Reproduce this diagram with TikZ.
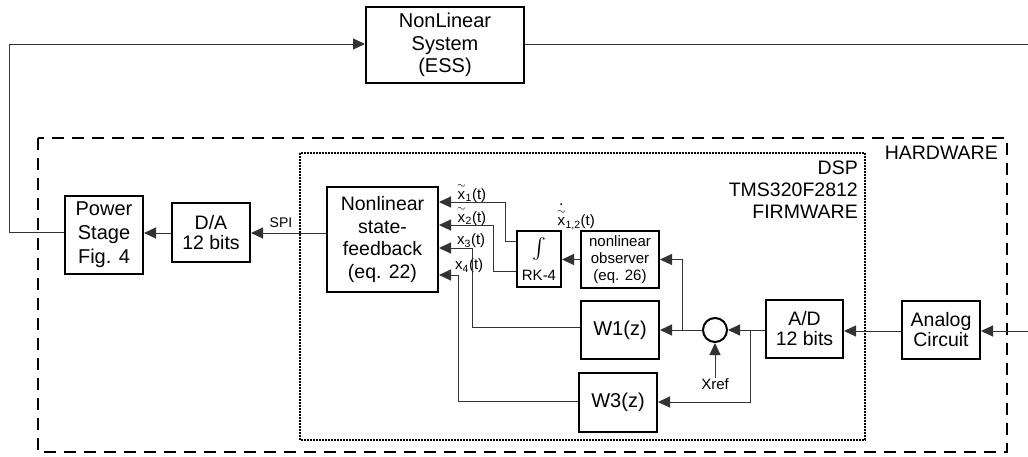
\documentclass[tikz,border=0pt]{standalone}
\usepackage{fontspec}
\usepackage{amsmath}
\setmainfont{Liberation Sans}
\usetikzlibrary{arrows.meta,calc}
\newcommand\fs[2]{\fontsize{#1}{#2}\selectfont}
\newcommand\tix{\overset{\sim}{\text{x}}}
\newcommand\dtix{\overset{\raisebox{1pt}{\text{\fs{16}{16}.}}}{\tix}}
\begin{document}
\begin{tikzpicture}[x=1pt,y=-1pt,
 blk/.style={draw=black, line width=2pt, align=center, inner sep=0pt, font=\fs{19.5}{22.5}},
 conn/.style={line width=1pt, draw=black!80},
 arr/.style={conn, -{Triangle[length=12pt,width=11pt]}},
 lbl/.style={inner sep=0pt, font=\fs{15}{17}},
 hwframe/.style={line width=2pt, dash pattern=on 12pt off 8pt},
 fwframe/.style={line width=1.6pt, dash pattern=on 1.6pt off 1.4pt},
]
\useasboundingbox (0,0) rectangle (1028,456);

% frames
\draw[hwframe] (38,138) rectangle (1007,452);
\draw[fwframe] (300,153) rectangle (865,440);

% blocks
\node[blk, minimum width=158pt, minimum height=76pt, font=\fs{20}{22.5}] (sys) at (445,45) {NonLinear\\System\\(ESS)};
\node[blk, minimum width=78pt, minimum height=78pt, font=\fs{20}{24}] (pow) at (104,235) {Power\\Stage\\Fig. 4};
\node[blk, minimum width=78pt, minimum height=59pt, font=\fs{19.5}{20}] (da) at (211,232.5) {D/A\\12 bits};
\node[blk, minimum width=111pt, minimum height=105pt, font=\fs{19.5}{22.6}] (fb) at (382.5,239.5) {Nonlinear\\state-\\feedback\\(eq. 22)};
\node[blk, minimum width=44pt, minimum height=56pt, font=\fs{15}{26}] (rk) at (539,259) {{\fs{21}{22}$\int$}\\RK-4};
\node[blk, minimum width=78pt, minimum height=57pt, font=\fs{15}{17}] (obs) at (620,259.5) {nonlinear\\observer\\(eq. 26)};
\node[blk, minimum width=78pt, minimum height=58pt, font=\fs{20}{22}] (w1) at (620,330) {W1(z)};
\node[blk, minimum width=78pt, minimum height=59pt, font=\fs{20}{22}] (w3) at (618,402.5) {W3(z)};
\node[draw=black, line width=2pt, circle, minimum size=24pt, inner sep=0pt] (sum) at (715,330) {};
\node[blk, minimum width=77pt, minimum height=58pt, font=\fs{19.5}{20}] (ad) at (804.5,329) {A/D\\12 bits};
\node[blk, minimum width=78pt, minimum height=58pt, font=\fs{19.5}{20}] (an) at (941,330) {Analog\\Circuit};

% labels
\node[lbl, anchor=east, font=\fs{19.5}{22}] (hw) at (998,153) {HARDWARE};
\node[lbl, anchor=north east, align=right, font=\fs{19.5}{22}] (dsp) at (858,161) {DSP\\TMS320F2812\\FIRMWARE};
\node[lbl, font=\fs{14}{16}] (spi) at (281,223) {SPI};
\node[lbl] (xref) at (715,384) {Xref};
\node[lbl, anchor=west] (l1) at (457,193) {$\tix_{\text{1}}$(t)};
\node[lbl, anchor=west] (l2) at (457,216) {$\tix_{\text{2}}$(t)};
\node[lbl, anchor=west] (l3) at (457,241) {$\text{x}_{\text{3}}$(t)};
\node[lbl, anchor=west] (l4) at (455,266) {$\text{x}_{\text{4}}$(t)};
\node[lbl] (ld) at (576,216) {$\dtix_{\text{1,2}}$(t)};

% free ends and junctions
\coordinate (outR) at (1028,44);
\coordinate (inR) at (1028,331);
\coordinate (jad) at (750,330);
\coordinate (jw1) at (682,330);
\coordinate (jl) at (9,44);

% connectors
\draw[arr] (pow.west |- 0,232) -| (jl) -- (sys.west |- jl);
\draw[conn] (sys.east |- outR) -- (outR);
\draw[arr] (inR) -- (an.east |- inR);
\draw[arr] (an.west |- inR) -- (ad.east |- inR);
\draw[arr] (ad.west |- sum.east) -- (sum.east);
\draw[arr] (jad) |- (w3.east |- 0,402);
\draw[arr] (sum.west) -- (w1.east |- sum.west);
\draw[arr] (jw1) |- (obs.east);
\draw[arr] (xref.north) -- (sum.south);
\draw[arr] (obs.west) -- (rk.east |- obs.west);
\draw[arr] (da.west |- 0,233) -- (pow.east |- 0,233);
\draw[arr] (fb.west |- 0,233) -- (da.east |- 0,233);
\draw[arr] (rk.west |- 0,241) -| (505,202) -- (fb.east |- 0,202);
\draw[arr] (rk.west |- 0,271) -| (493,225) -- (fb.east |- 0,225);
\draw[arr] (w1.west |- 0,327) -| (472,248) -- (fb.east |- 0,248);
\draw[arr] (w3.west |- 0,401) -| (458,275) -- (fb.east |- 0,275);
\end{tikzpicture}
\end{document}
